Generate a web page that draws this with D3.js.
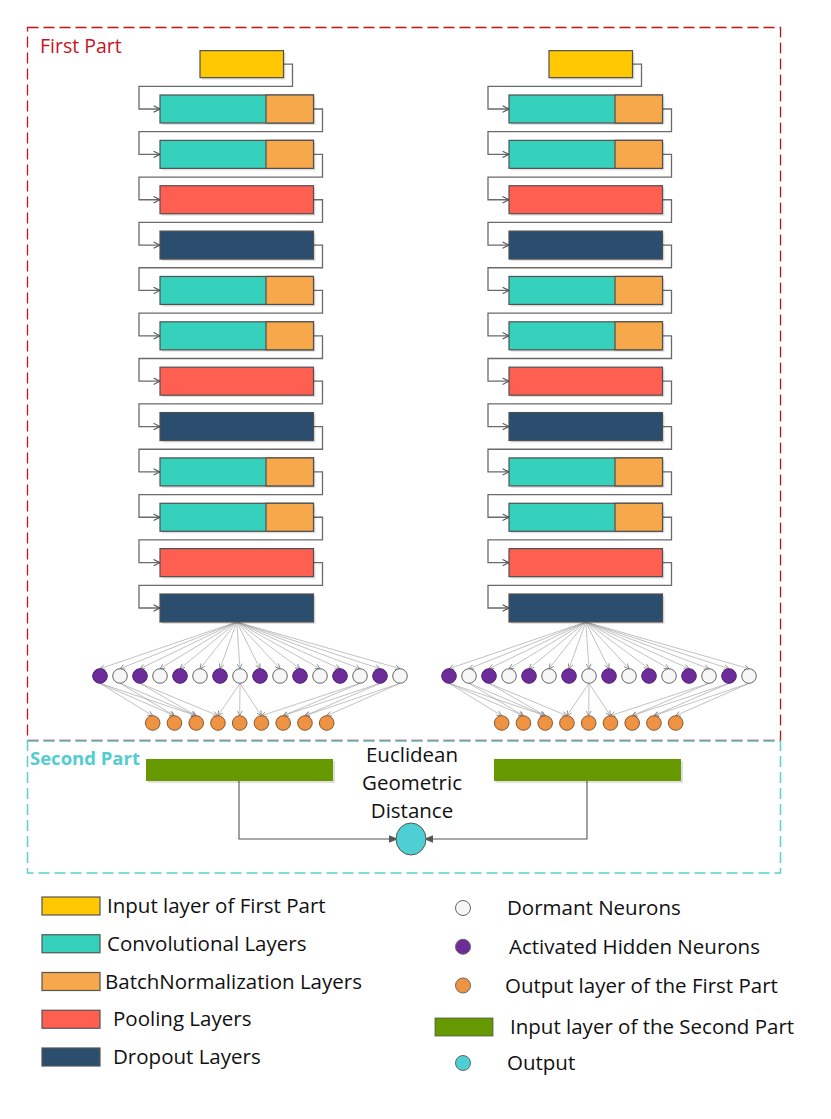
<!DOCTYPE html>
<html>
<head>
<meta charset="utf-8">
<script src="https://cdn.jsdelivr.net/npm/d3@7"></script>
<style>
  body { margin: 0; background: #fff; }
  text { font-family: "Open Sans", Lato, sans-serif; fill: #111; }
</style>
</head>
<body>
<div id="diagram"></div>
<script>
// layer stack of each branch, top to bottom (input layer sits above row 0)
const layerTypes = ["conv", "conv", "pool", "drop", "conv", "conv", "pool", "drop", "conv", "conv", "pool", "drop"];
// 1 = activated hidden neuron, 0 = dormant
const hiddenStates = [1, 0, 1, 0, 1, 0, 1, 0, 1, 0, 1, 0, 1, 0, 1, 0];
const outputNeurons = [0, 1, 2, 3, 4, 5, 6, 7, 8];
// [hidden index, output index]
const hiddenToOutput = [
  [0, 0], [0, 1], [0, 2], [1, 1], [1, 2], [2, 2], [2, 3],
  [7, 3], [7, 4], [7, 5],
  [13, 5], [13, 6], [14, 6], [14, 7], [15, 7], [15, 8]
];
const branches = ["left", "right"];
const partLabels = ["First Part", "Second Part"];
const distanceLabel = ["Euclidean", "Geometric", "Distance"];
const legendLayers = [
  { key: "input", label: "Input layer of First Part" },
  { key: "conv", label: "Convolutional Layers" },
  { key: "bn", label: "BatchNormalization Layers" },
  { key: "pool", label: "Pooling Layers" },
  { key: "drop", label: "Dropout Layers" }
];
const legendNodes = [
  { key: "dormant", label: "Dormant Neurons" },
  { key: "active", label: "Activated Hidden Neurons" },
  { key: "outNeuron", label: "Output layer of the First Part" },
  { key: "second", label: "Input layer of the Second Part" },
  { key: "final", label: "Output" }
];

const colors = {
  input: "#FFC800", conv: "#36D1BD", bn: "#F7A84B", pool: "#FF5F50", drop: "#2B4D6E",
  dormant: "#F6F6F6", active: "#6E2C9B", outNeuron: "#EE9243", second: "#669900", final: "#4DCFD3"
};

const W = 831, H = 1119;
const svg = d3.select("#diagram").append("svg")
  .attr("width", W).attr("height", H);

const defs = svg.append("defs");
function marker(id, size, color) {
  defs.append("marker")
    .attr("id", id)
    .attr("viewBox", "0 0 10 10")
    .attr("refX", 9).attr("refY", 5)
    .attr("markerWidth", size).attr("markerHeight", size)
    .attr("markerUnits", "userSpaceOnUse")
    .attr("orient", "auto")
    .append("path")
      .attr("d", "M1,1 L9,5 L1,9")
      .attr("fill", "none")
      .attr("stroke", color)
      .attr("stroke-width", 1.4);
}
marker("arrow", 8, "#555");
marker("arrowSmall", 6, "#888");
marker("arrowSolid", 8, "#555");
defs.select("#arrowSolid path").attr("d", "M0,1 L10,5 L0,9 Z").attr("fill", "#555");

// scales
const col = d3.scaleOrdinal().domain(branches).range([0, 349]);
const rowY = d3.scaleLinear().domain([0, layerTypes.length - 1]).range([95, 594]);
const boxH = 28, boxL = 160, boxR = 313.5, splitX = 266;
const hiddenX = d3.scaleLinear().domain([0, hiddenStates.length - 1]).range([100, 400]);
const outX = d3.scaleLinear().domain([0, outputNeurons.length - 1]).range([152.7, 326.7]);
const hiddenY = 676, outY = 723, nr = 7.3;

// dashed frames
svg.append("rect")
  .attr("x", 27.5).attr("y", 27.5).attr("width", 753).attr("height", 713)
  .attr("fill", "none").attr("stroke", "#CC1111").attr("stroke-width", 1.3)
  .attr("stroke-dasharray", "11,5");
svg.append("rect")
  .attr("x", 27.5).attr("y", 741).attr("width", 753).attr("height", 132)
  .attr("fill", "none").attr("stroke", "#5CCFD0").attr("stroke-width", 1.5)
  .attr("stroke-dasharray", "11,5");

svg.append("text").attr("x", 40).attr("y", 53).text(partLabels[0])
  .style("font-size", "19.5px").style("fill", "#C8141E");
svg.append("text").attr("x", 30).attr("y", 765).text(partLabels[1])
  .style("font-size", "18.5px").style("font-weight", "bold").style("fill", "#52CDD0");

function shadowRect(g, x, y, w, h, fill) {
  g.append("rect").attr("x", x + 2).attr("y", y + 2).attr("width", w).attr("height", h)
    .attr("fill", "#000").attr("opacity", 0.12);
  return g.append("rect").attr("x", x).attr("y", y).attr("width", w).attr("height", h)
    .attr("fill", fill).attr("stroke", "#505050").attr("stroke-width", 1.2);
}

branches.forEach(b => {
  const dx = col(b);
  const g = svg.append("g").attr("transform", `translate(${dx},0)`);
  const lines = g.append("g");
  const boxes = g.append("g");

  // input layer
  const inTop = rowY(-1) + 1, inL = 200, inR = 283.5, inH = 27;
  shadowRect(boxes, inL, inTop, inR - inL, inH, colors.input);

  // elbow connectors
  layerTypes.forEach((t, i) => {
    const prevTop = i === 0 ? inTop : rowY(i - 1);
    const prevBottom = prevTop + (i === 0 ? inH : boxH);
    const prevMid = prevTop + (i === 0 ? inH : boxH) / 2;
    const prevRight = i === 0 ? inR : boxR;
    const gapMid = (prevBottom + rowY(i)) / 2;
    const curMid = rowY(i) + boxH / 2;
    const path = d3.path();
    path.moveTo(prevRight, prevMid);
    path.lineTo(prevRight + 9, prevMid);
    path.lineTo(prevRight + 9, gapMid);
    path.lineTo(boxL - 21, gapMid);
    path.lineTo(boxL - 21, curMid);
    path.lineTo(boxL, curMid);
    lines.append("path").attr("d", path.toString())
      .attr("fill", "none").attr("stroke", "#6a6a6a").attr("stroke-width", 1.3)
      .attr("marker-end", "url(#arrow)");
  });

  // layer boxes
  layerTypes.forEach((t, i) => {
    const y = rowY(i);
    if (t === "conv") {
      shadowRect(boxes, boxL, y, boxR - boxL, boxH, colors.conv);
      boxes.append("rect").attr("x", splitX).attr("y", y).attr("width", boxR - splitX).attr("height", boxH)
        .attr("fill", colors.bn).attr("stroke", "#505050").attr("stroke-width", 1.2);
    } else {
      shadowRect(boxes, boxL, y, boxR - boxL, boxH, colors[t]);
    }
  });

  // fan from last dropout layer to hidden neurons
  const srcX = (boxL + boxR) / 2, srcY = rowY(layerTypes.length - 1) + boxH;
  lines.selectAll("line.fan")
    .data(hiddenStates)
    .join("line")
      .attr("class", "fan")
      .attr("x1", srcX).attr("y1", srcY)
      .attr("x2", (d, i) => hiddenX(i)).attr("y2", hiddenY - nr)
      .attr("stroke", "#999").attr("stroke-width", 0.6)
      .attr("marker-end", "url(#arrowSmall)");

  // hidden to output links
  lines.selectAll("line.link")
    .data(hiddenToOutput)
    .join("line")
      .attr("class", "link")
      .attr("x1", d => hiddenX(d[0])).attr("y1", hiddenY + nr)
      .attr("x2", d => outX(d[1])).attr("y2", outY - nr)
      .attr("stroke", "#999").attr("stroke-width", 0.6)
      .attr("marker-end", "url(#arrowSmall)");

  boxes.selectAll("circle.hidden")
    .data(hiddenStates)
    .join("circle")
      .attr("class", "hidden")
      .attr("cx", (d, i) => hiddenX(i)).attr("cy", hiddenY).attr("r", nr)
      .attr("fill", d => d ? colors.active : colors.dormant)
      .attr("stroke", d => d ? "#4a2070" : "#666").attr("stroke-width", 1);

  boxes.selectAll("circle.out")
    .data(outputNeurons)
    .join("circle")
      .attr("class", "out")
      .attr("cx", d => outX(d)).attr("cy", outY).attr("r", nr)
      .attr("fill", colors.outNeuron)
      .attr("stroke", "#8a5a30").attr("stroke-width", 1);
});

// second part
const secondG = svg.append("g");
const greenY = 759, greenH = 22;
const finalX = 411, finalY = 839, finalR = 15;
branches.forEach(b => {
  const dx = col(b);
  const gx = 146 + dx - (b === "right" ? 1 : 0);
  const cx = gx + 93;
  const path = d3.path();
  path.moveTo(cx, greenY + greenH);
  path.lineTo(cx, finalY);
  path.lineTo(b === "left" ? finalX - finalR : finalX + finalR, finalY);
  secondG.append("path").attr("d", path.toString())
    .attr("fill", "none").attr("stroke", "#555").attr("stroke-width", 1.1)
    .attr("marker-end", "url(#arrowSolid)");
  secondG.append("rect").attr("x", gx + 2).attr("y", greenY + 2).attr("width", 187).attr("height", greenH)
    .attr("fill", "#000").attr("opacity", 0.12);
  secondG.append("rect").attr("x", gx).attr("y", greenY).attr("width", 187).attr("height", greenH)
    .attr("fill", colors.second);
});
secondG.append("ellipse").attr("cx", finalX).attr("cy", finalY).attr("rx", finalR).attr("ry", finalR + 1)
  .attr("fill", colors.final).attr("stroke", "#555").attr("stroke-width", 1);
secondG.selectAll("text")
  .data(distanceLabel)
  .join("text")
    .attr("x", 412).attr("y", (d, i) => 755 + i * 28)
    .attr("dy", "0.35em")
    .attr("text-anchor", "middle")
    .style("font-size", "20.5px")
    .text(d => d);

// legend
const legY = d3.scalePoint().domain(d3.range(legendLayers.length)).range([906, 1057]);
const legL = svg.append("g");
legendLayers.forEach((d, i) => {
  const y = legY(i);
  legL.append("rect").attr("x", 42).attr("y", y - 9).attr("width", 58).attr("height", 18)
    .attr("fill", colors[d.key]).attr("stroke", "#555").attr("stroke-width", 1.2);
  legL.append("text").attr("x", d.key === "pool" || d.key === "drop" ? 113 : (d.key === "bn" ? 105 : 107)).attr("y", y)
    .attr("dy", "0.35em").style("font-size", "20.5px").text(d.label);
});

const legNY = d3.scalePoint().domain(d3.range(legendNodes.length)).range([908, 1063]);
const legR = svg.append("g");
legendNodes.forEach((d, i) => {
  const y = d.key === "second" ? 1027 : legNY(i);
  if (d.key === "second") {
    legR.append("rect").attr("x", 435).attr("y", y - 9).attr("width", 58).attr("height", 18)
      .attr("fill", colors.second).attr("stroke", "#555").attr("stroke-width", 0.8);
  } else {
    legR.append("circle").attr("cx", 463).attr("cy", y).attr("r", 7.5)
      .attr("fill", colors[d.key]).attr("stroke", "#666").attr("stroke-width", 1);
  }
  const tx = { dormant: 507, active: 509, outNeuron: 505, second: 510, final: 507 }[d.key];
  legR.append("text").attr("x", tx).attr("y", y)
    .attr("dy", "0.35em").style("font-size", "20.5px").text(d.label);
});
</script>
</body>
</html>
